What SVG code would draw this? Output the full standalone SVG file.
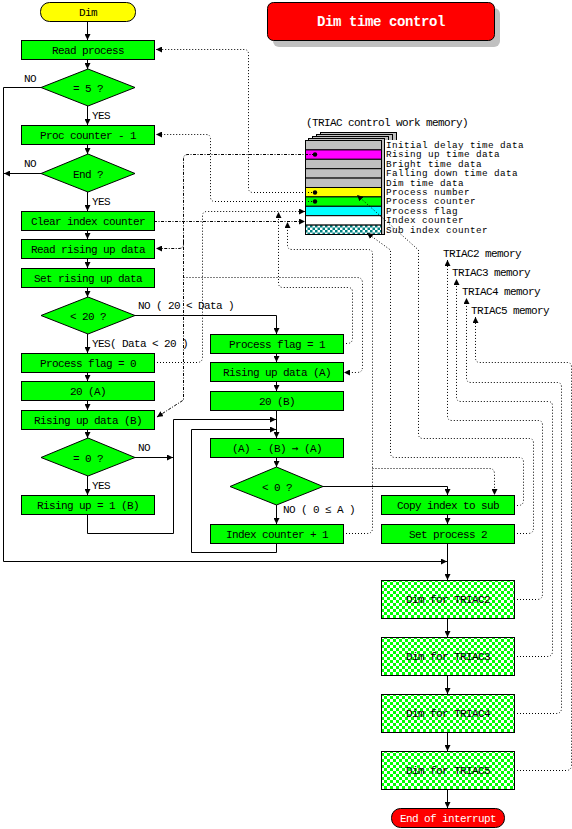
<svg xmlns="http://www.w3.org/2000/svg" width="572" height="829" viewBox="0 0 572 829">
<style>
.box{fill:#00ff00;stroke:#000;stroke-width:1}
.chk{fill:url(#chkG);stroke:#000;stroke-width:1}
.t{font-family:"Liberation Mono","DejaVu Sans Mono",monospace;font-size:11px;letter-spacing:-0.6px;fill:#000}
.m{font-family:"Liberation Mono","DejaVu Sans Mono",monospace;font-size:9.3px;letter-spacing:0.42px;fill:#000}
.c{text-anchor:middle}
.flow{fill:none;stroke:#000;stroke-width:1}
.dot{fill:none;stroke:#000;stroke-width:1;stroke-dasharray:1 2}
.dd{fill:none;stroke:#000;stroke-width:1;stroke-dasharray:3 1.5 1 1.5}
.row{stroke:#000;stroke-width:1}
</style>
<defs>
<marker id="ar" viewBox="0 0 6 6" refX="6" refY="3" markerWidth="6" markerHeight="6" markerUnits="userSpaceOnUse" orient="auto"><path d="M0,0 L6,3 L0,6 z" fill="#000"/></marker>
<pattern id="chkG" width="6" height="6" patternUnits="userSpaceOnUse"><rect width="6" height="6" fill="#fff"/><rect width="3" height="3" fill="#00ff00"/><rect x="3" y="3" width="3" height="3" fill="#00ff00"/></pattern>
<pattern id="chkT" width="5" height="5" patternUnits="userSpaceOnUse"><rect width="5" height="5" fill="#fff"/><rect width="2.5" height="2.5" fill="#008080"/><rect x="2.5" y="2.5" width="2.5" height="2.5" fill="#008080"/></pattern>
</defs>
<rect width="572" height="829" fill="#fff"/>

<!-- title -->
<g id="title">
<rect x="273" y="8" width="227" height="39" rx="6" fill="#c0c0c0"/>
<rect x="267.5" y="2.5" width="227" height="38" rx="6" fill="#ff0000" stroke="#000"/>
<text x="381" y="26" class="c" font-family="Liberation Mono, monospace" font-size="14" font-weight="bold" letter-spacing="-0.4" fill="#fff">Dim time control</text>
</g>

<!-- memory table -->
<g id="memory">
<text x="306" y="126" class="t">(TRIAC control work memory)</text>
<rect x="320.5" y="132.5" width="76" height="96" fill="#c0c0c0" stroke="#000"/>
<rect x="316.5" y="134.5" width="76" height="96" fill="#c0c0c0" stroke="#000"/>
<rect x="312.5" y="136.5" width="76" height="96" fill="#c0c0c0" stroke="#000"/>
<rect x="308.5" y="138.5" width="76" height="96" fill="#c0c0c0" stroke="#000"/>
<rect x="385" y="140" width="150" height="96" fill="#fff"/>
<rect x="305.5" y="140.5" width="76" height="9.4" fill="#c0c0c0" class="row"/>
<rect x="305.5" y="149.9" width="76" height="9.4" fill="#ff00ff" class="row"/>
<rect x="305.5" y="159.3" width="76" height="9.4" fill="#c0c0c0" class="row"/>
<rect x="305.5" y="168.7" width="76" height="9.4" fill="#c0c0c0" class="row"/>
<rect x="305.5" y="178.1" width="76" height="9.4" fill="#c0c0c0" class="row"/>
<rect x="305.5" y="187.5" width="76" height="9.4" fill="#ffff00" class="row"/>
<rect x="305.5" y="196.9" width="76" height="9.4" fill="#00ff00" class="row"/>
<rect x="305.5" y="206.3" width="76" height="9.4" fill="#00ffff" class="row"/>
<rect x="305.5" y="215.7" width="76" height="9.4" fill="#fff" class="row"/>
<rect x="305.5" y="225.1" width="76" height="9.4" fill="url(#chkT)" class="row"/>
<text x="386" y="148" class="m">Initial delay time data</text>
<text x="386" y="157.4" class="m">Rising up time data</text>
<text x="386" y="166.8" class="m">Bright time data</text>
<text x="386" y="176.2" class="m">Falling down time data</text>
<text x="386" y="185.6" class="m">Dim time data</text>
<text x="386" y="195" class="m">Process number</text>
<text x="386" y="204.4" class="m">Process counter</text>
<text x="386" y="213.8" class="m">Process flag</text>
<text x="386" y="223.2" class="m">Index counter</text>
<text x="386" y="232.6" class="m">Sub index counter</text>
</g>

<g id="triacmem">
<text x="443" y="257" class="t">TRIAC2 memory</text>
<text x="452" y="276" class="t">TRIAC3 memory</text>
<text x="462" y="295" class="t">TRIAC4 memory</text>
<text x="471" y="314" class="t">TRIAC5 memory</text>
</g>

<!-- nodes -->
<g id="n-dim"><rect x="40.5" y="2.5" width="95" height="19" rx="9" fill="#ffff00" stroke="#000"/><text x="88" y="16" class="t c">Dim</text></g>
<g id="n-read"><rect x="21.5" y="40.5" width="133" height="19" class="box"/><text x="88" y="54" class="t c">Read process</text></g>
<g id="n-d5"><path d="M41,87.5 L88,69 L135,87.5 L88,106 z" class="box"/><text x="88" y="91.5" class="t c">= 5 ?</text></g>
<g id="n-proc"><rect x="21.5" y="125.5" width="133" height="19" class="box"/><text x="88" y="139" class="t c">Proc counter - 1</text></g>
<g id="n-dend"><path d="M41,173.5 L88,154 L135,173.5 L88,192 z" class="box"/><text x="88" y="177.5" class="t c">End ?</text></g>
<g id="n-clear"><rect x="21.5" y="211.5" width="133" height="19" class="box"/><text x="88" y="225" class="t c">Clear index counter</text></g>
<g id="n-readrise"><rect x="21.5" y="239.5" width="133" height="19" class="box"/><text x="88" y="253" class="t c">Read rising up data</text></g>
<g id="n-setrise"><rect x="21.5" y="268.5" width="133" height="19" class="box"/><text x="88" y="282" class="t c">Set rising up data</text></g>
<g id="n-d20"><path d="M41,315.5 L88,297 L135,315.5 L88,334 z" class="box"/><text x="88" y="319.5" class="t c">&lt; 20 ?</text></g>
<g id="n-pf0"><rect x="21.5" y="353.5" width="133" height="19" class="box"/><text x="88" y="367" class="t c">Process flag = 0</text></g>
<g id="n-a20"><rect x="21.5" y="381.5" width="133" height="19" class="box"/><text x="88" y="395" class="t c">20 (A)</text></g>
<g id="n-rudb"><rect x="21.5" y="410.5" width="133" height="19" class="box"/><text x="88" y="424" class="t c">Rising up data (B)</text></g>
<g id="n-d0"><path d="M41,457.5 L88,438 L135,457.5 L88,476 z" class="box"/><text x="88" y="461.5" class="t c">= 0 ?</text></g>
<g id="n-ru1"><rect x="21.5" y="495.5" width="133" height="19" class="box"/><text x="88" y="509" class="t c">Rising up = 1 (B)</text></g>

<g id="n-pf1"><rect x="210.5" y="334.5" width="133" height="19" class="box"/><text x="277" y="348" class="t c">Process flag = 1</text></g>
<g id="n-ruda"><rect x="210.5" y="362.5" width="133" height="19" class="box"/><text x="277" y="376" class="t c">Rising up data (A)</text></g>
<g id="n-b20"><rect x="210.5" y="391.5" width="133" height="19" class="box"/><text x="277" y="405" class="t c">20 (B)</text></g>
<g id="n-sub"><rect x="210.5" y="438.5" width="133" height="19" class="box"/><text x="277" y="452" class="t c">(A) - (B) <tspan font-family="DejaVu Sans Mono, monospace">→</tspan> (A)</text></g>
<g id="n-dlt0"><path d="M230,486.5 L276.5,467 L323,486.5 L276.5,505 z" class="box"/><text x="277" y="490.5" class="t c">&lt; 0 ?</text></g>
<g id="n-inc"><rect x="210.5" y="524.5" width="133" height="19" class="box"/><text x="277" y="538" class="t c">Index counter + 1</text></g>

<g id="n-copy"><rect x="381.5" y="495.5" width="133" height="19" class="box"/><text x="448" y="509" class="t c">Copy index to sub</text></g>
<g id="n-setp2"><rect x="381.5" y="524.5" width="133" height="19" class="box"/><text x="448" y="538" class="t c">Set process 2</text></g>
<g id="n-t2"><rect x="381.5" y="580.5" width="133" height="38" class="chk"/><text x="448" y="603" class="t c">Dim for TRIAC2</text></g>
<g id="n-t3"><rect x="381.5" y="637.5" width="133" height="38" class="chk"/><text x="448" y="660" class="t c">Dim for TRIAC3</text></g>
<g id="n-t4"><rect x="381.5" y="694.5" width="133" height="38" class="chk"/><text x="448" y="717" class="t c">Dim for TRIAC4</text></g>
<g id="n-t5"><rect x="381.5" y="751.5" width="133" height="38" class="chk"/><text x="448" y="774" class="t c">Dim for TRIAC5</text></g>
<g id="n-end"><rect x="391.5" y="808.5" width="113" height="19" rx="9" fill="#ff0000" stroke="#000"/><text x="448" y="822" class="t c" style="fill:#fff">End of interrupt</text></g>

<!-- connectors -->
<g id="connectors">
<g class="flow" marker-end="url(#ar)">
<path d="M87.5,21 V40"/>
<path d="M87.5,59.5 V69"/>
<path d="M87.5,106 V125"/>
<path d="M87.5,144.5 V154"/>
<path d="M87.5,192 V211"/>
<path d="M87.5,230.5 V239"/>
<path d="M87.5,258.5 V268"/>
<path d="M87.5,287.5 V297"/>
<path d="M87.5,334 V353"/>
<path d="M87.5,372.5 V381"/>
<path d="M87.5,400.5 V410"/>
<path d="M87.5,429.5 V438"/>
<path d="M87.5,476 V495"/>
<path d="M41,87.5 H3.5 V561.5 H447"/>
<path d="M41,173.5 H4"/>
<path d="M135,315.5 H276.5 V334"/>
<path d="M135,457.5 H173"/>
<path d="M87.5,514.5 V533.5 H173.5 V419.5 H276"/>
<path d="M276.5,353.5 V362"/>
<path d="M276.5,381.5 V391"/>
<path d="M276.5,410.5 V438"/>
<path d="M276.5,457.5 V467"/>
<path d="M276.5,505 V524"/>
<path d="M276.5,543.5 V552.5 H191.5 V429.5 H276"/>
<path d="M323,486.5 H447.5 V495"/>
<path d="M447.5,514.5 V524"/>
<path d="M447.5,543.5 V580"/>
<path d="M447.5,618.5 V637"/>
<path d="M447.5,675.5 V694"/>
<path d="M447.5,732.5 V751"/>
<path d="M447.5,789.5 V808"/>
</g>
<g marker-end="url(#ar)">
<path class="dot" d="M315,192.5 H253 Q248.5,192.5 248.5,188 V54 Q248.5,49.5 244,49.5 H156"/>
<path class="dot" d="M315,201.5 H215 Q210.5,201.5 210.5,197 V139 Q210.5,134.5 206,134.5 H156"/>
<path class="dd" d="M315,154.5 H188 Q183.5,154.5 183.5,159 V244 Q183.5,248.5 179,248.5 H156"/>
<path class="dd" d="M183.5,240 V400 L157,417"/>
<path class="dot" d="M183.5,277.5 H357 Q362.5,277.5 362.5,283 V367 Q362.5,372.5 357,372.5 H344"/>
<path class="dot" d="M154,362.5 H197 Q202.5,362.5 202.5,357 V216 Q202.5,211.5 207,211.5 H305"/>
<path class="dot" d="M343,343.5 H347 Q352.5,343.5 352.5,338 V292 Q352.5,287.5 348,287.5 H283 Q278.5,287.5 278.5,283 V212"/>
<path class="dd" d="M154,221.5 H305"/>
<path class="dot" d="M343,533.5 H367 Q372.5,533.5 372.5,528 V254 Q372.5,249.5 368,249.5 H292 Q287.5,249.5 287.5,245 V222"/>
<path class="dot" d="M372.5,468.5 H489 Q494.5,468.5 494.5,474 V495"/>
<path class="dot" d="M514,505.5 H518 Q523.5,505.5 523.5,500 V462 Q523.5,457.5 519,457.5 H395 Q390.5,457.5 390.5,453 V250 L367,233"/>
<path class="dot" d="M514,533.5 H528 Q533.5,533.5 533.5,528 V443 Q533.5,438.5 529,438.5 H423 Q418.5,438.5 418.5,434 V250 L357,195"/>
<path class="dot" d="M514,599.5 H537 Q542.5,599.5 542.5,594 V425 Q542.5,420.5 538,420.5 H452 Q447.5,420.5 447.5,416 V260"/>
<path class="dot" d="M514,656.5 H547 Q552.5,656.5 552.5,651 V406 Q552.5,401.5 548,401.5 H461 Q456.5,401.5 456.5,397 V279"/>
<path class="dot" d="M514,713.5 H556 Q561.5,713.5 561.5,708 V387 Q561.5,382.5 557,382.5 H471 Q466.5,382.5 466.5,378 V298"/>
<path class="dot" d="M514,770.5 H566 Q571.5,770.5 571.5,765 V367 Q571.5,362.5 567,362.5 H480 Q475.5,362.5 475.5,358 V317"/>
</g>
<circle cx="315" cy="154.5" r="2.2" fill="#000"/>
<circle cx="315" cy="192.5" r="2.2" fill="#000"/>
<circle cx="315" cy="201.5" r="2.2" fill="#000"/>
</g>

<!-- labels -->
<g id="labels">
<text x="24" y="82" class="t">NO</text>
<text x="92" y="119" class="t">YES</text>
<text x="24" y="167" class="t">NO</text>
<text x="92" y="205" class="t">YES</text>
<text x="138" y="309" class="t">NO ( 20 &lt; Data )</text>
<text x="92" y="347" class="t">YES( Data &lt; 20 )</text>
<text x="138" y="451" class="t">NO</text>
<text x="92" y="489" class="t">YES</text>
<text x="283" y="513" class="t">NO ( 0 ≤ A )</text>
</g>
</svg>
